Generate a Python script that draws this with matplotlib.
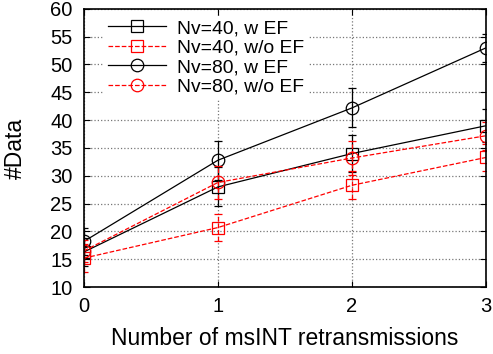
import matplotlib
matplotlib.use('Agg')
import matplotlib.pyplot as plt

plt.rcParams['font.family'] = ['Liberation Sans', 'DejaVu Sans']

# retransmission counts
x = [0, 1, 2, 3]

# mean #Data per series
nv40_ef = [16.3, 28.0, 34.0, 39.0]
nv40_noef = [15.2, 20.7, 28.3, 33.3]
nv80_ef = [18.2, 32.8, 42.2, 53.0]
nv80_noef = [16.5, 28.8, 33.2, 37.2]

# error bar half-widths
err40_ef = [2.5, 3.5, 3.3, 3.0]
err40_noef = [2.5, 2.5, 2.5, 2.5]
err80_ef = [2.5, 3.5, 3.5, 2.5]
err80_noef = [2.0, 3.0, 3.0, 2.5]

labels = ['Nv=40, w EF', 'Nv=40, w/o EF', 'Nv=80, w EF', 'Nv=80, w/o EF']

fig = plt.figure(figsize=(4.93, 3.54), dpi=100)
ax = fig.add_axes([0.170, 0.189, 0.816, 0.786])

series = [
    (nv40_ef, err40_ef, 'black', '-', 's'),
    (nv40_noef, err40_noef, 'red', '--', 's'),
    (nv80_ef, err80_ef, 'black', '-', 'o'),
    (nv80_noef, err80_noef, 'red', '--', 'o'),
]
for (y, e, c, ls, m), lab in zip(series, labels):
    # error bars first, then the line + marker that goes into the legend
    eb = ax.errorbar(x, y, yerr=e, color=c, linestyle='none', capsize=3,
                     elinewidth=0.9, capthick=0.9)
    eb[-1][0].set_linestyle(ls)
    ax.plot(x, y, color=c, linestyle=ls, linewidth=0.9, marker=m,
            markersize=9, markerfacecolor='none', markeredgecolor=c,
            markeredgewidth=0.9, label=lab)

ax.set_xlim(0, 3)
ax.set_ylim(10, 60)
ax.set_xticks(x)
ax.set_yticks(range(10, 61, 5))
ax.tick_params(direction='in', top=True, right=True, labelsize=14.5, length=4)
ax.tick_params(axis='y', pad=8)
ax.tick_params(axis='x', pad=7)
ax.grid(True, color='#777777', linestyle=':', linewidth=0.9)
for s in ax.spines.values():
    s.set_linewidth(1.2)

ax.set_xlabel('Number of msINT retransmissions', fontsize=16.5)
ax.set_ylabel('#Data', fontsize=16.5)
ax.xaxis.set_label_coords(0.5, -0.145)
ax.yaxis.set_label_coords(-0.142, 0.5)

leg = ax.legend(loc='upper left', bbox_to_anchor=(0.05, 0.975), borderaxespad=0,
                fontsize=13.9, frameon=True, handlelength=3.0, borderpad=0.2,
                labelspacing=0.1, handletextpad=0.58)
leg.get_frame().set_edgecolor('none')
leg.get_frame().set_facecolor('white')
leg.get_frame().set_alpha(1)

fig.savefig('out.png', dpi=100)
